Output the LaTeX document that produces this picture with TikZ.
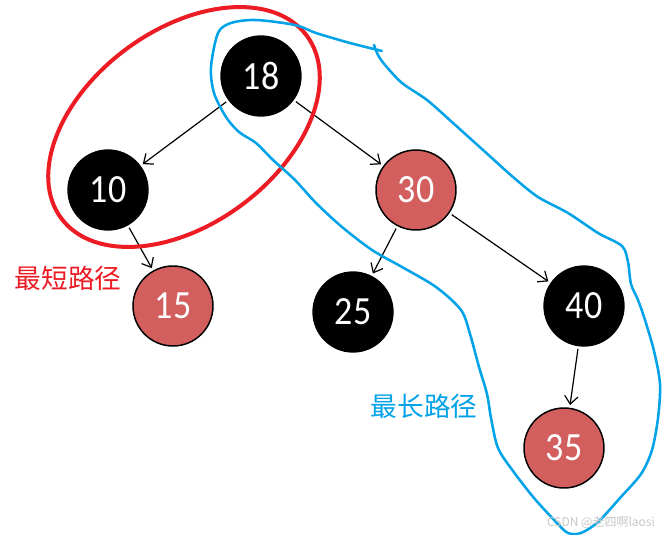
\documentclass[tikz,border=0pt]{standalone}
\usepackage{fontspec}
\setmainfont{Carlito}
\newfontfamily\digitfont[FakeStretch=0.9]{Carlito}
\newfontfamily\cjk{Noto Sans CJK SC}
\usetikzlibrary{arrows.meta}
\definecolor{nodered}{RGB}{210,94,94}
\definecolor{pathred}{RGB}{237,28,36}
\definecolor{pathblue}{RGB}{0,162,232}
\tikzset{
  rbnode/.style={circle,minimum size=60pt,inner sep=0pt,font=\digitfont\fontsize{30}{30}\selectfont,text=white},
  blacknode/.style={rbnode,fill=black,draw=black,line width=1pt},
  rednode/.style={rbnode,fill=nodered,draw=black,line width=1.1pt},
  edge/.style={-{Straight Barb[length=6pt,width=10pt]},line width=0.9pt,shorten <=2pt,shorten >=2pt},
  label/.style={font=\cjk\fontsize{20}{20}\selectfont}
}
\begin{document}
\begin{tikzpicture}[x=0.75pt,y=-0.75pt]
\useasboundingbox (0,0) rectangle (664,535);
\fill[white] (0,0) rectangle (664,535);
% nodes
\node[blacknode] (n18) at (261,76) {18};
\node[blacknode] (n10) at (108,190) {10};
\node[rednode] (n30) at (416,190) {30};
\node[rednode] (n15) at (173,306) {15};
\node[blacknode] (n25) at (353,312) {25};
\node[blacknode] (n40) at (584,306) {40};
\node[rednode] (n35) at (564,448) {35};
% edges
\draw[edge] (n18) -- (n10);
\draw[edge] (n18) -- (n30);
\draw[edge] (n10) -- (n15);
\draw[edge] (n30) -- (n25);
\draw[edge] (n30) -- (n40);
\draw[edge] (n40) -- (n35);
% red ellipse (shortest path)
\draw[pathred,line width=3pt,rotate around={36.6:(184,127)}] (184,127) ellipse [x radius=153,y radius=97];
% blue loop (longest path)
\draw[pathblue,line width=1.9pt,line join=round,line cap=round] plot[smooth,tension=0.5] coordinates {
(374,45) (378,55) (385,65) (402,83) (427,100) (453,123) (483,150) (513,177) (538,197) (568,213) (598,233) (622,246) (628,262) (631,284) (638,300) (645,320) (654,351) (660,384) (658,418) (652,450) (641,474) (620,498) (598,522) (581,533) (568,533) (556,522) (534,498) (513,471) (498,448) (491,418) (487,394) (479,367) (470,334) (461,310) (436,287) (402,267) (372,250) (342,227) (316,203) (295,180) (273,160) (256,143) (239,132) (226,117) (214,93) (211,67) (218,33) (231,23) (256,20) (295,25) (316,33) (350,43) (382,51)};
% labels
\node[label,text=pathred] (lshort) at (68,278) {最短路径};
\node[label,text=pathblue] (llong) at (424,406) {最长路径};
\node[font=\cjk\fontsize{9}{9}\selectfont,text=black!22] (wm) at (601,522) {CSDN @老四啊laosi};
\end{tikzpicture}
\end{document}
